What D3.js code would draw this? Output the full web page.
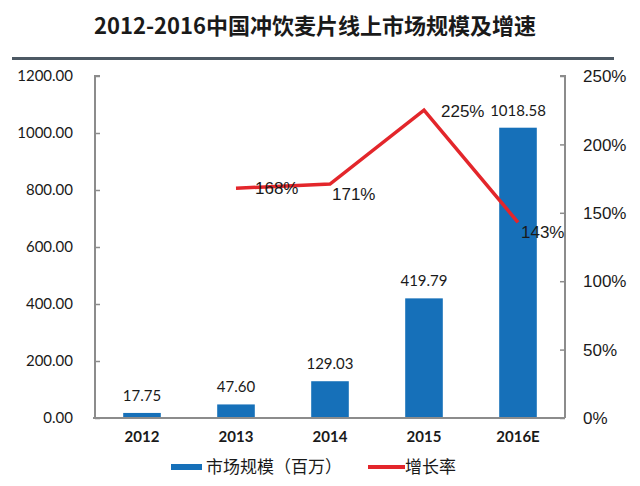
<!DOCTYPE html>
<html>
<head>
<meta charset="utf-8" />
<title>冲饮麦片线上市场规模</title>
<style>
    body { margin: 0; background: #fff; }
    svg text { fill: #1a1a1a; }
</style>
</head>
<body>
<div id="container"></div>
<script src="https://cdn.jsdelivr.net/npm/d3@7"></script>
<script>
    const years = ['2012', '2013', '2014', '2015', '2016E']
    const marketSize = [17.75, 47.60, 129.03, 419.79, 1018.58]
    const growthYears = ['2013', '2014', '2015', '2016E']
    const growthRate = [168, 171, 225, 143]
    const leftTicks = [0, 200, 400, 600, 800, 1000, 1200]
    const rightTicks = [0, 50, 100, 150, 200, 250]

    const width = 640, height = 486
    const plot = { left: 95, right: 565, top: 76, bottom: 418 }

    const svg = d3.select('#container').append('svg')
        .attr('width', width).attr('height', height)

    // 标题
    svg.append('text')
        .attr('x', 315).attr('y', 34)
        .attr('text-anchor', 'middle')
        .style('font-family', '"Noto Sans CJK SC", sans-serif')
        .style('font-weight', 'bold')
        .style('font-size', '22px')
        .text('2012-2016中国冲饮麦片线上市场规模及增速')
    svg.append('rect').attr('x', 12).attr('y', 57).attr('width', 602).attr('height', 3).attr('fill', '#4d5964')

    const x = d3.scaleBand().domain(years).range([plot.left, plot.right]).paddingInner(0.6).paddingOuter(0.3)
    const yL = d3.scaleLinear().domain([0, 1200]).range([plot.bottom, plot.top])
    const yR = d3.scaleLinear().domain([0, 250]).range([plot.bottom, plot.top])

    // 柱子
    svg.append('g').selectAll('rect').data(marketSize).join('rect')
        .attr('x', (d, i) => x(years[i]))
        .attr('y', d => yL(d))
        .attr('width', x.bandwidth())
        .attr('height', d => yL(0) - yL(d))
        .attr('fill', '#1670b9')

    svg.append('g').selectAll('text').data(marketSize).join('text')
        .attr('x', (d, i) => x(years[i]) + x.bandwidth() / 2)
        .attr('y', d => yL(d) - 12)
        .attr('text-anchor', 'middle')
        .style('font-family', 'Lato, sans-serif')
        .style('font-size', '15px')
        .text(d => d.toFixed(2))

    // 坐标轴
    const axisColor = '#8c8c8c'
    const leftAxis = svg.append('g').attr('transform', `translate(${plot.left},0)`)
        .call(d3.axisRight(yL).tickValues(leftTicks).tickSize(5).tickFormat(''))
    const rightAxis = svg.append('g').attr('transform', `translate(${plot.right},0)`)
        .call(d3.axisLeft(yR).tickValues(rightTicks).tickSize(5).tickFormat(''))
    const bottomAxis = svg.append('g').attr('transform', `translate(0,${plot.bottom})`)
        .call(d3.axisBottom(x).tickSize(0).tickPadding(13))
    ;[leftAxis, rightAxis, bottomAxis].forEach(g => {
        g.select('.domain').attr('stroke', axisColor).attr('stroke-width', 2)
        g.selectAll('.tick line').attr('stroke', axisColor).attr('stroke-width', 1.5)
    })
    leftAxis.select('.domain').attr('d', `M5,${plot.top}H0V${plot.bottom}`)
    rightAxis.select('.domain').attr('d', `M-5,${plot.top}H0V${plot.bottom}`)
    bottomAxis.select('.domain').attr('d', `M${plot.left - 2},0H${plot.right}`)
    bottomAxis.selectAll('.tick text')
        .style('font-family', 'Lato, sans-serif')
        .style('font-weight', 'bold')
        .style('font-size', '15px')
        .attr('fill', '#1a1a1a')

    svg.append('g').selectAll('text').data(leftTicks).join('text')
        .attr('x', 73).attr('y', d => yL(d))
        .attr('dy', '0.36em')
        .attr('text-anchor', 'end')
        .style('font-family', 'Lato, sans-serif')
        .style('font-size', '15px')
        .text(d => d.toFixed(2))

    svg.append('g').selectAll('text').data(rightTicks).join('text')
        .attr('x', 583).attr('y', d => yR(d))
        .attr('dy', '0.36em')
        .style('font-family', '"Liberation Sans", Arial, sans-serif')
        .style('font-size', '17px')
        .text(d => d + '%')

    // 增长率折线
    const cx = yr => x(yr) + x.bandwidth() / 2
    const line = d3.line().x((d, i) => cx(growthYears[i])).y(d => yR(d))
    svg.append('path').datum(growthRate)
        .attr('d', line)
        .attr('fill', 'none')
        .attr('stroke', '#e3262b')
        .attr('stroke-width', 3.5)
        .attr('stroke-linejoin', 'miter')

    const labelShift = [[19, 0], [2, 10], [17, 1], [3, 10]]
    svg.append('g').selectAll('text').data(growthRate).join('text')
        .attr('x', (d, i) => cx(growthYears[i]) + labelShift[i][0])
        .attr('y', (d, i) => yR(d) + labelShift[i][1])
        .attr('dy', '0.36em')
        .style('font-family', '"Liberation Sans", Arial, sans-serif')
        .style('font-size', '17px')
        .text(d => d + '%')

    // 图例
    const legend = svg.append('g').attr('transform', 'translate(0,467)')
    legend.append('rect').attr('x', 171).attr('y', -3).attr('width', 31).attr('height', 6).attr('fill', '#1670b9')
    legend.append('text').attr('x', 206).attr('dy', '0.36em')
        .style('font-family', '"Noto Sans CJK SC", sans-serif').style('font-size', '17px')
        .attr('fill', '#333').text('市场规模（百万）')
    legend.append('line').attr('x1', 368).attr('x2', 405).attr('y1', 0).attr('y2', 0)
        .attr('stroke', '#e3262b').attr('stroke-width', 4)
    legend.append('text').attr('x', 405).attr('dy', '0.36em')
        .style('font-family', '"Noto Sans CJK SC", sans-serif').style('font-size', '17px')
        .attr('fill', '#333').text('增长率')
</script>
</body>
</html>
